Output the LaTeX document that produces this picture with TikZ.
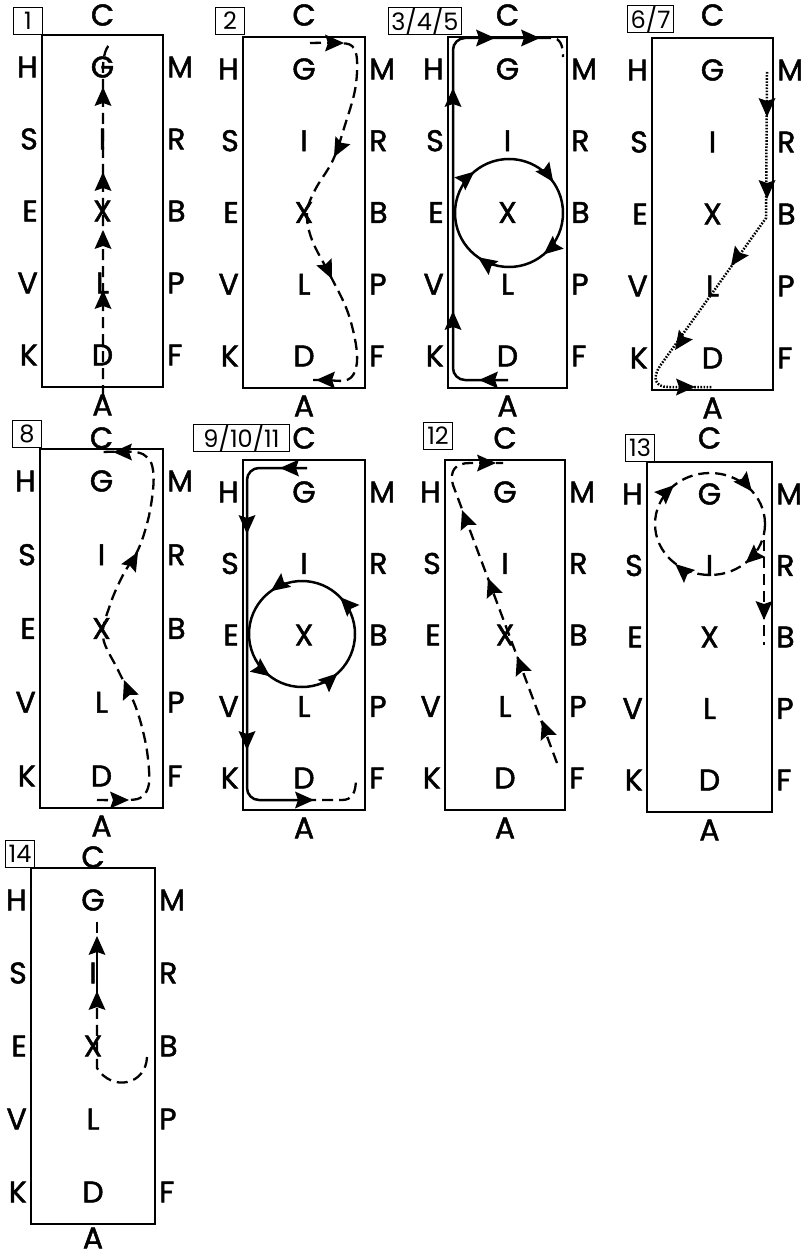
\documentclass[tikz,border=0pt]{standalone}
\usepackage{fontspec}
\setmainfont{Poppins}
\newfontfamily\letfont{Poppins}[FakeBold=1.6]
\usetikzlibrary{calc}
\tikzset{
 frame/.style={draw, line width=1.3pt},
 ltr/.style={font=\letfont\fontsize{30}{30}\selectfont, inner sep=0pt},
 lab/.style={draw, line width=1pt, font=\fontsize{24}{24}\selectfont, inner xsep=3pt, inner ysep=0pt, minimum height=27pt, minimum width=29pt},
 dashpath/.style={line width=2.3pt, dash pattern=on 11pt off 6pt},
 dotpath/.style={line width=2.5pt, dash pattern=on 1.6pt off 1.5pt},
 solidpath/.style={line width=2.5pt},
 tipfill/.style={fill=black},
}
% arrowhead at a point, pointing at a page angle
\newcommand\atip[2]{\fill[tipfill,shift={#1},rotate=#2] (0,0) -- (-19,8.5) -- (-16,0) -- (-19,-8.5) -- cycle;}
% arrowhead on a circle: centre, radius, page angle, +90 ccw / -90 cw
\newcommand\ctip[4]{\fill[tipfill,shift={($(#1)+({-1*(#3)}:#2)$)},rotate={#3+#4}] (0,0) -- (-19,8.5) -- (-16,0) -- (-19,-8.5) -- cycle;}
\def\aoff{18}
% panel: id, x1, y1, x2, y2, label, box right, box bottom, C y
\newcommand\mypanel[9]{%
 \draw[frame] (#2,#3) rectangle (#4,#5);
 \pgfmathsetmacro\cx{(#2+#4)/2}
 \pgfmathsetmacro\dy{(#5-#3-64)/4}
 \foreach \colL/\colM/\colR [count=\ri from 0] in {H/G/M, S/I/R, E/X/B, V/L/P, K/D/F} {
  \pgfmathsetmacro\yy{#3+32+\ri*\dy}
  \node[ltr, anchor=east] (#1\colL) at (#2-4,\yy) {\colL};
  \node[ltr] (#1\colM) at (\cx,\yy) {\colM};
  \node[ltr, anchor=west] (#1\colR) at (#4+4,\yy) {\colR};
 }
 \node[ltr] (#1C) at (\cx,#9) {C};
 \node[ltr] (#1A) at (\cx,#5+\aoff) {A};
 \node[lab, anchor=south east] (#1lab) at (#7,#8) {#6};
}
\begin{document}
\begin{tikzpicture}[x=1pt,y=-1pt]
\useasboundingbox (0,0) rectangle (802,1260);

\mypanel{p1}{42}{35}{163}{387}{1}{43}{35}{15}
\mypanel{p2}{243}{37}{365}{388}{2}{245}{35}{15}
\mypanel{p3}{448}{37}{567}{388}{3/4/5}{462}{35}{15}
\mypanel{p6}{652}{38}{773}{390}{6/7}{674}{33}{15}
\mypanel{p8}{40}{449}{163}{808}{8}{42}{448}{438}
\mypanel{p9}{243}{460}{365}{810}{\makebox[90pt]{9/10/11}}{290}{452}{438}
\mypanel{p12}{445}{460}{565}{810}{12}{453}{450}{438}
\mypanel{p13}{647}{462}{772}{812}{13}{655}{462}{438}
\def\aoff{14}
\mypanel{p14}{31}{868}{155}{1224}{14}{35}{868}{857}

% panel 1
\coordinate (p1s) at (103,396);
\coordinate (p1t) at (103,70);
\coordinate (p1e) at (112,43);
\draw[dashpath] (p1s) -- (p1t) .. controls (103,55) and (106,46) .. (p1e);
\atip{(103,290)}{90} \atip{(103,230)}{90} \atip{(103,172)}{90} \atip{(103,87)}{90}

% panel 2
\draw[dashpath] plot[smooth, tension=0.6] coordinates {(310,43) (338,43) (352,46) (357,60) (355,90) (345,125) (333,160) (315,190) (307,213) (312,240) (330,275) (347,310) (356,345) (356,368) (347,380) (325,380) (308,380)};
\atip{(344,43)}{0} \atip{(334,157)}{-118} \atip{(332,279)}{-65} \atip{(316,380)}{180}

% panel 3/4/5
\draw[solidpath, rounded corners=12pt] (508,380) -| (453,38) -- (540,38);
\draw[dashpath] (540,38) -- (552,38) .. controls (560,38) and (563,45) .. (563,57);
\atip{(479,380)}{180} \atip{(453,311)}{90} \atip{(453,88)}{90} \atip{(495,38)}{0} \atip{(540,38)}{0}
\coordinate (p3c) at (509,213);
\draw[solidpath] (p3c) circle[radius=54];
\ctip{p3c}{54}{130}{-90} \ctip{p3c}{54}{35}{-90} \ctip{p3c}{54}{-50}{-90} \ctip{p3c}{54}{-125}{-90}

% panel 6/7
\draw[dotpath] (767,72) -- (766,218) -- (660,366) .. controls (652,378) and (655,387) .. (668,387) -- (712,387);
\atip{(767,117)}{-90} \atip{(767,199)}{-90} \atip{(731,266)}{-125} \atip{(675,350)}{-125} \atip{(695,387)}{0}

% panel 8
\draw[dashpath] plot[smooth, tension=0.6] coordinates {(97,800) (125,800) (140,798) (148,788) (149,770) (145,740) (135,705) (118,670) (103,637) (110,605) (123,575) (138,550) (148,520) (153,490) (153,470) (148,458) (135,452) (103,452)};
\atip{(129,800)}{0} \atip{(124,680)}{111} \atip{(138,552)}{60} \atip{(113,452)}{180}

% panel 9/10/11
\draw[solidpath, rounded corners=12pt] (307,468) -| (247,800) -- (305,800);
\draw[dashpath] (305,800) -- (342,800) .. controls (352,800) and (356,793) .. (356,778);
\atip{(280,468)}{180} \atip{(247,534)}{-90} \atip{(247,750)}{-90} \atip{(314,800)}{0}
\coordinate (p9c) at (302,634);
\draw[solidpath] (p9c) circle[radius=53];
\ctip{p9c}{53}{126}{90} \ctip{p9c}{53}{-127}{90} \ctip{p9c}{53}{-48}{90} \ctip{p9c}{53}{44}{90}

% panel 12
\draw[dashpath] (557,763) -- (453,485) .. controls (449,470) and (456,463) .. (470,463) -- (503,463);
\atip{(542,720)}{110.5} \atip{(517,656)}{110.5} \atip{(488,578)}{110.5} \atip{(462,510)}{110.5} \atip{(496,463)}{0}

% panel 13
\coordinate (p13c) at (710,524);
\draw[dashpath] (p13c) ellipse[x radius=55, y radius=51];
\draw[dashpath] (764,540) -- (764,645);
\ctip{p13c}{53}{133}{-90} \ctip{p13c}{53}{38}{-90} \ctip{p13c}{53}{-48}{-90} \ctip{p13c}{53}{-131}{-90}
\atip{(764,620)}{-90}

% panel 14
\draw[dashpath] (147,1057) .. controls (146,1085) and (112,1092) .. (97,1068) -- (97,1005);
\draw[solidpath] (97,1005) -- (97,950);
\draw[dashpath] (97,950) -- (97,918);
\atip{(97,991)}{90} \atip{(97,936)}{90}
\end{tikzpicture}
\end{document}
